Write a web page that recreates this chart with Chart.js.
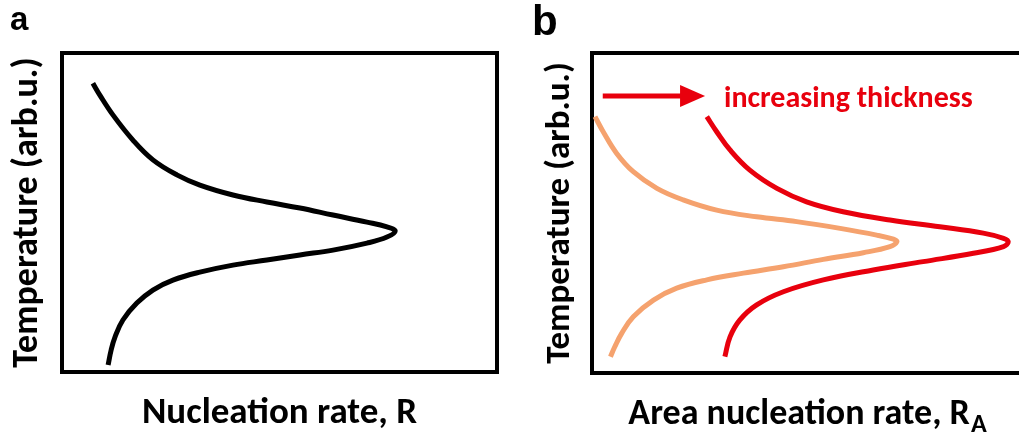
<!DOCTYPE html>
<html>
<head>
<meta charset="utf-8">
<script src="https://cdn.jsdelivr.net/npm/chart.js@4.4.0/dist/chart.umd.min.js"></script>
<style>
    html, body { margin: 0; padding: 0; background: #fff; width: 1019px; height: 438px; overflow: hidden; }
    #chartA { position: absolute; left: 0; top: 0; }
    #chartB { position: absolute; left: 510px; top: 0; }
</style>
</head>
<body>
<canvas id="chartA" width="510" height="438"></canvas>
<canvas id="chartB" width="512" height="438"></canvas>
<script>
// Panel a: nucleation rate R vs temperature, both in arbitrary units (0-100)
const rateA = [7.1, 8.7, 11.7, 16.3, 20.9, 26.4, 31.7, 39.3, 47.1, 54.7, 62.3, 70.1, 74.7, 76.6,
               74.7, 70.1, 62.3, 54.7, 47.1, 39.3, 31.7, 25.5, 20.9, 17.2, 14.0, 12.2, 11.3, 10.6];
const tempA = [90.5, 86.8, 80.6, 72.7, 66.5, 61.8, 58.6, 55.5, 53.3, 51.4, 49.2, 47.0, 45.5, 44.2,
               42.3, 40.4, 38.2, 36.7, 35.1, 33.5, 31.3, 28.8, 25.7, 21.6, 16.3, 11.0, 6.9, 2.2];

// Panel b: area nucleation rate R_A, thin film (orange) and thick film (red)
const rateThin = [0.7, 2.6, 5.7, 9.6, 15.1, 21.2, 29.0, 38.3, 47.6, 57.7, 66.2, 70.1, 70.9,
                  69.3, 63.1, 53.8, 44.5, 35.2, 26.7, 19.7, 14.3, 9.6, 6.9, 5.3, 4.3];
const tempThin = [80.1, 75.4, 68.7, 62.9, 57.7, 54.1, 50.9, 48.8, 47.3, 45.2, 43.1, 41.8, 41.0,
                  39.5, 37.6, 35.5, 33.2, 31.2, 29.1, 26.5, 22.8, 17.6, 12.4, 8.2, 5.1];
const rateThick = [26.7, 29.0, 32.1, 36.7, 43.0, 49.9, 58.4, 69.3, 80.9, 91.0, 95.7, 96.8,
                   95.7, 88.7, 77.0, 65.4, 53.8, 44.5, 38.3, 34.4, 32.1, 30.9];
const tempThick = [80.1, 75.4, 69.7, 63.4, 57.7, 53.5, 50.4, 47.8, 45.7, 43.7, 42.1, 41.0,
                   39.5, 37.4, 34.8, 32.2, 29.1, 25.4, 21.3, 16.6, 11.3, 5.1];

// "increasing thickness" arrow + note, in the same units as panel b
const arrowFrom = [2.5, 86.6];
const arrowTo = [26.3, 86.6];
const noteAt = [30.7, 83.1];

const FONT = 'Carlito, Calibri, sans-serif';
const RED = '#E8000D';
const ORANGE = '#F5A26E';

const toPoints = (xs, ys) => xs.map((x, i) => ({ x, y: ys[i] }));

const frame = {
    id: 'frame',
    beforeDatasetsDraw(chart) {
        const { ctx, chartArea: a } = chart;
        ctx.save();
        ctx.strokeStyle = '#000';
        ctx.lineWidth = 4;
        ctx.strokeRect(a.left, a.top, a.right - a.left, a.bottom - a.top);
        ctx.restore();
    }
};

const panelLabel = {
    id: 'panelLabel',
    afterDraw(chart, args, opts) {
        const ctx = chart.ctx;
        ctx.save();
        ctx.font = `bold ${opts.size}px "Liberation Sans", Arial, sans-serif`;
        ctx.fillStyle = '#000';
        ctx.textBaseline = 'alphabetic';
        ctx.fillText(opts.text, opts.x, opts.y);
        ctx.restore();
    }
};

const thicknessNote = {
    id: 'thicknessNote',
    afterDatasetsDraw(chart) {
        const { ctx, scales: { x, y }, chartArea } = chart;
        const x0 = x.getPixelForValue(arrowFrom[0]);
        const x1 = x.getPixelForValue(arrowTo[0]);
        const yy = y.getPixelForValue(arrowFrom[1]);
        ctx.save();
        ctx.strokeStyle = RED;
        ctx.fillStyle = RED;
        ctx.lineWidth = 5;
        ctx.beginPath();
        ctx.moveTo(x0, yy);
        ctx.lineTo(x1 - 20, yy);
        ctx.stroke();
        ctx.beginPath();
        ctx.moveTo(x1, yy);
        ctx.lineTo(x1 - 25, yy - 11);
        ctx.lineTo(x1 - 25, yy + 11);
        ctx.closePath();
        ctx.fill();

        ctx.font = `bold 30px ${FONT}`;
        ctx.textBaseline = 'alphabetic';
        ctx.fillText('increasing thickness', x.getPixelForValue(noteAt[0]), y.getPixelForValue(noteAt[1]));

        // x axis title with subscript A
        const main = 'Area nucleation rate, R';
        ctx.fillStyle = '#000';
        ctx.font = `bold 36px ${FONT}`;
        const wMain = ctx.measureText(main).width;
        ctx.font = `bold 26px ${FONT}`;
        const wSub = ctx.measureText('A').width;
        const left = (chartArea.left + chartArea.right) / 2 - (wMain + wSub) / 2;
        ctx.fillText('A', left + wMain + 1, 432);
        ctx.font = `bold 36px ${FONT}`;
        ctx.fillText(main, left, 424);
        ctx.restore();
    }
};

Chart.defaults.font.family = FONT;
Chart.defaults.color = '#000';

function curve(data, color) {
    return {
        data,
        showLine: true,
        borderColor: color,
        borderWidth: 5,
        pointRadius: 0,
        tension: 0.4,
        fill: false
    };
}

const hiddenTicks = { display: false };
const noGrid = { display: false, drawTicks: false };

new Chart(document.getElementById('chartA'), {
    type: 'scatter',
    data: { datasets: [curve(toPoints(rateA, tempA), '#000')] },
    options: {
        responsive: false,
        animation: false,
        layout: { padding: { left: 0, top: 53, right: 13, bottom: 0 } },
        plugins: {
            legend: { display: false },
            tooltip: { enabled: false },
            panelLabel: { text: 'a', size: 33, x: 10, y: 30 }
        },
        scales: {
            x: {
                min: 0, max: 100,
                grid: noGrid,
                border: { display: false },
                ticks: hiddenTicks,
                title: {
                    display: true,
                    text: 'Nucleation rate, R',
                    font: { size: 37, weight: 'bold', lineHeight: 1 },
                    padding: { top: 23, bottom: 6 }
                }
            },
            y: {
                min: 0, max: 100,
                grid: noGrid,
                border: { display: false },
                ticks: hiddenTicks,
                title: {
                    display: true,
                    text: 'Temperature (arb.u.)',
                    font: { size: 36, weight: 'bold', lineHeight: 1 },
                    padding: { top: 10.3, bottom: 15.7 }
                }
            }
        }
    },
    plugins: [frame, panelLabel]
});

new Chart(document.getElementById('chartB'), {
    type: 'scatter',
    data: {
        datasets: [
            curve(toPoints(rateThin, tempThin), ORANGE),
            curve(toPoints(rateThick, tempThick), RED)
        ]
    },
    options: {
        responsive: false,
        animation: false,
        layout: { padding: { left: 0, top: 53, right: 0, bottom: 65 } },
        plugins: {
            legend: { display: false },
            tooltip: { enabled: false },
            panelLabel: { text: 'b', size: 42, x: 22, y: 35 }
        },
        scales: {
            x: { display: false, min: 0, max: 100 },
            y: {
                min: 0, max: 100,
                grid: noGrid,
                border: { display: false },
                ticks: hiddenTicks,
                title: {
                    display: true,
                    text: 'Temperature (arb.u.)',
                    font: { size: 35, weight: 'bold', lineHeight: 1 },
                    padding: { top: 32.5, bottom: 14.5 }
                }
            }
        }
    },
    plugins: [frame, panelLabel, thicknessNote]
});
</script>
</body>
</html>
